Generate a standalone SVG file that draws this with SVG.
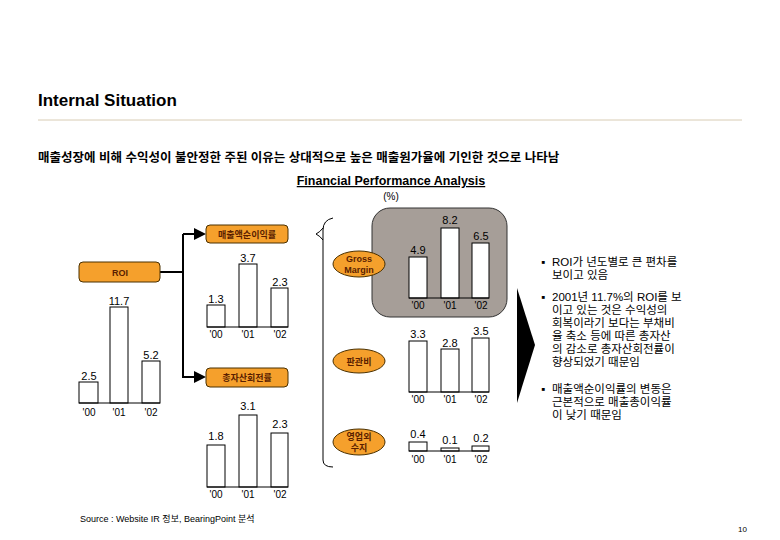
<svg xmlns="http://www.w3.org/2000/svg" width="780" height="540" viewBox="0 0 780 540">
<defs>
<style>
text{font-family:"Liberation Sans",Arial,"Noto Sans CJK KR",sans-serif;fill:#000}
.k{font-family:"Liberation Sans","Noto Sans CJK KR",sans-serif}
.bar{fill:#fff;stroke:#000;stroke-width:1}
.base{stroke:#000;stroke-width:1}
.v{font-size:11px;text-anchor:middle}
.y{font-size:10px;text-anchor:middle}
.box{fill:#F5A02C;stroke:#4a3000;stroke-width:1}
.bl{font-size:9px;font-weight:bold;text-anchor:middle;fill:#5a1e00}
.bt{font-size:11.5px}
.ln{stroke:#000;stroke-width:2;fill:none}
</style>
<marker id="ar" markerWidth="6" markerHeight="6" refX="5" refY="3" orient="auto"><path d="M0,0L6,3L0,6z" fill="#000"/></marker>
</defs>
<rect width="780" height="540" fill="#fff"/>
<text x="38" y="106" font-size="17" font-weight="bold">Internal Situation</text>
<line x1="38" y1="120" x2="742" y2="120" stroke="#d8ccb4" stroke-width="1"/>
<text x="38" y="162" font-size="12.5" font-weight="bold" class="k">매출성장에 비해 수익성이 불안정한 주된 이유는 상대적으로 높은 매출원가율에 기인한 것으로 나타남</text>
<text x="391" y="185" font-size="12.5" font-weight="bold" text-anchor="middle" text-decoration="underline">Financial Performance Analysis</text>
<text x="391" y="200" font-size="10" text-anchor="middle">(%)</text>

<g id="connectors">
<line x1="160" y1="272" x2="183" y2="272" class="ln"/>
<path d="M183,234V377H204" class="ln" marker-end="url(#ar)"/>
<path d="M183,234H204" class="ln" marker-end="url(#ar)"/>
<path d="M333,218Q323,220 323,230V460Q323,467 333,467" fill="none" stroke="#000" stroke-width="1"/>
<path d="M323,228Q320,232 316,234Q320,236 323,240" fill="none" stroke="#000" stroke-width="1"/>
</g>

<g id="roi">
<rect x="79" y="262" width="81" height="20" rx="4" class="box"/>
<text x="120" y="276" class="bl" font-size="10">ROI</text>
<rect x="79" y="382" width="19" height="21" class="bar"/>
<rect x="110" y="307" width="18" height="96" class="bar"/>
<rect x="142" y="361" width="18" height="42" class="bar"/>
<line x1="79" y1="403" x2="160" y2="403" class="base"/>
<text x="89" y="380" class="v">2.5</text><text x="119" y="305" class="v">11.7</text><text x="151" y="359" class="v">5.2</text>
<text x="89" y="416" class="y">'00</text><text x="119" y="416" class="y">'01</text><text x="151" y="416" class="y">'02</text>
</g>

<g id="npm">
<rect x="206" y="225" width="82" height="18" rx="4" class="box"/>
<text x="247" y="238" class="bl k">매출액순이익률</text>
<rect x="207" y="305" width="18" height="22" class="bar"/>
<rect x="239" y="264" width="18" height="63" class="bar"/>
<rect x="271" y="288" width="17" height="39" class="bar"/>
<line x1="207" y1="327" x2="288" y2="327" class="base"/>
<text x="216" y="303" class="v">1.3</text><text x="248" y="262" class="v">3.7</text><text x="280" y="286" class="v">2.3</text>
<text x="216" y="338" class="y">'00</text><text x="248" y="338" class="y">'01</text><text x="280" y="338" class="y">'02</text>
</g>

<g id="turnover">
<rect x="206" y="368" width="82" height="19" rx="4" class="box"/>
<text x="247" y="381" class="bl k">총자산회전률</text>
<rect x="207" y="445" width="18" height="42" class="bar"/>
<rect x="239" y="415" width="18" height="72" class="bar"/>
<rect x="271" y="433" width="17" height="54" class="bar"/>
<line x1="207" y1="487" x2="288" y2="487" class="base"/>
<text x="216" y="440" class="v">1.8</text><text x="248" y="410" class="v">3.1</text><text x="280" y="428" class="v">2.3</text>
<text x="216" y="498" class="y">'00</text><text x="248" y="498" class="y">'01</text><text x="280" y="498" class="y">'02</text>
</g>

<g id="gross">
<rect x="372" y="208" width="135" height="109" rx="18" fill="#A69E98" stroke="#333" stroke-width="1"/>
<ellipse cx="359" cy="264" rx="26" ry="13" class="box"/>
<text x="359" y="262" class="bl">Gross</text><text x="359" y="273" class="bl">Margin</text>
<rect x="409" y="257" width="18" height="41" class="bar"/>
<rect x="441" y="228" width="18" height="70" class="bar"/>
<rect x="472" y="243" width="17" height="55" class="bar"/>
<line x1="409" y1="298" x2="489" y2="298" class="base"/>
<text x="418" y="254" class="v">4.9</text><text x="450" y="224" class="v">8.2</text><text x="481" y="240" class="v">6.5</text>
<text x="418" y="309" class="y">'00</text><text x="450" y="309" class="y">'01</text><text x="481" y="309" class="y">'02</text>
</g>

<g id="sga">
<ellipse cx="359" cy="361" rx="26" ry="12" class="box"/>
<text x="359" y="365" class="bl k">판관비</text>
<rect x="409" y="341" width="18" height="51" class="bar"/>
<rect x="441" y="349" width="18" height="43" class="bar"/>
<rect x="472" y="338" width="17" height="54" class="bar"/>
<line x1="409" y1="392" x2="489" y2="392" class="base"/>
<text x="418" y="338" class="v">3.3</text><text x="450" y="347" class="v">2.8</text><text x="481" y="335" class="v">3.5</text>
<text x="418" y="403" class="y">'00</text><text x="450" y="403" class="y">'01</text><text x="481" y="403" class="y">'02</text>
</g>

<g id="nonop">
<ellipse cx="359" cy="442" rx="26" ry="13" class="box"/>
<text x="359" y="440" class="bl k">영업외</text><text x="359" y="451" class="bl k">수지</text>
<rect x="409" y="442" width="18" height="9" class="bar"/>
<rect x="441" y="448" width="18" height="3" class="bar"/>
<rect x="472" y="446" width="17" height="5" class="bar"/>
<line x1="409" y1="451" x2="489" y2="451" class="base"/>
<text x="418" y="438" class="v">0.4</text><text x="450" y="444" class="v">0.1</text><text x="481" y="442" class="v">0.2</text>
<text x="418" y="463" class="y">'00</text><text x="450" y="463" class="y">'01</text><text x="481" y="463" class="y">'02</text>
</g>

<g id="arrow"><polygon points="517,288 535,345 517,403" fill="#000"/></g>

<g id="bullets" class="k">
<text x="541" y="266" class="bt">▪</text>
<text x="552" y="266" class="bt">ROI가 년도별로 큰 편차를</text>
<text x="552" y="279" class="bt">보이고 있음</text>
<text x="541" y="301" class="bt">▪</text>
<text x="552" y="301" class="bt">2001년 11.7%의 ROI를 보</text>
<text x="552" y="314" class="bt">이고 있는 것은 수익성의</text>
<text x="552" y="327" class="bt">회복이라기 보다는 부채비</text>
<text x="552" y="340" class="bt">율 축소 등에 따른 총자산</text>
<text x="552" y="353" class="bt">의 감소로 총자산회전률이</text>
<text x="552" y="366" class="bt">향상되었기 때문임</text>
<text x="541" y="393" class="bt">▪</text>
<text x="552" y="393" class="bt">매출액순이익률의 변동은</text>
<text x="552" y="406" class="bt">근본적으로 매출총이익률</text>
<text x="552" y="419" class="bt">이 낮기 때문임</text>
</g>

<text x="80" y="522" font-size="9" class="k">Source : Website IR 정보, BearingPoint 분석</text>
<text x="738" y="532" font-size="8">10</text>
</svg>
